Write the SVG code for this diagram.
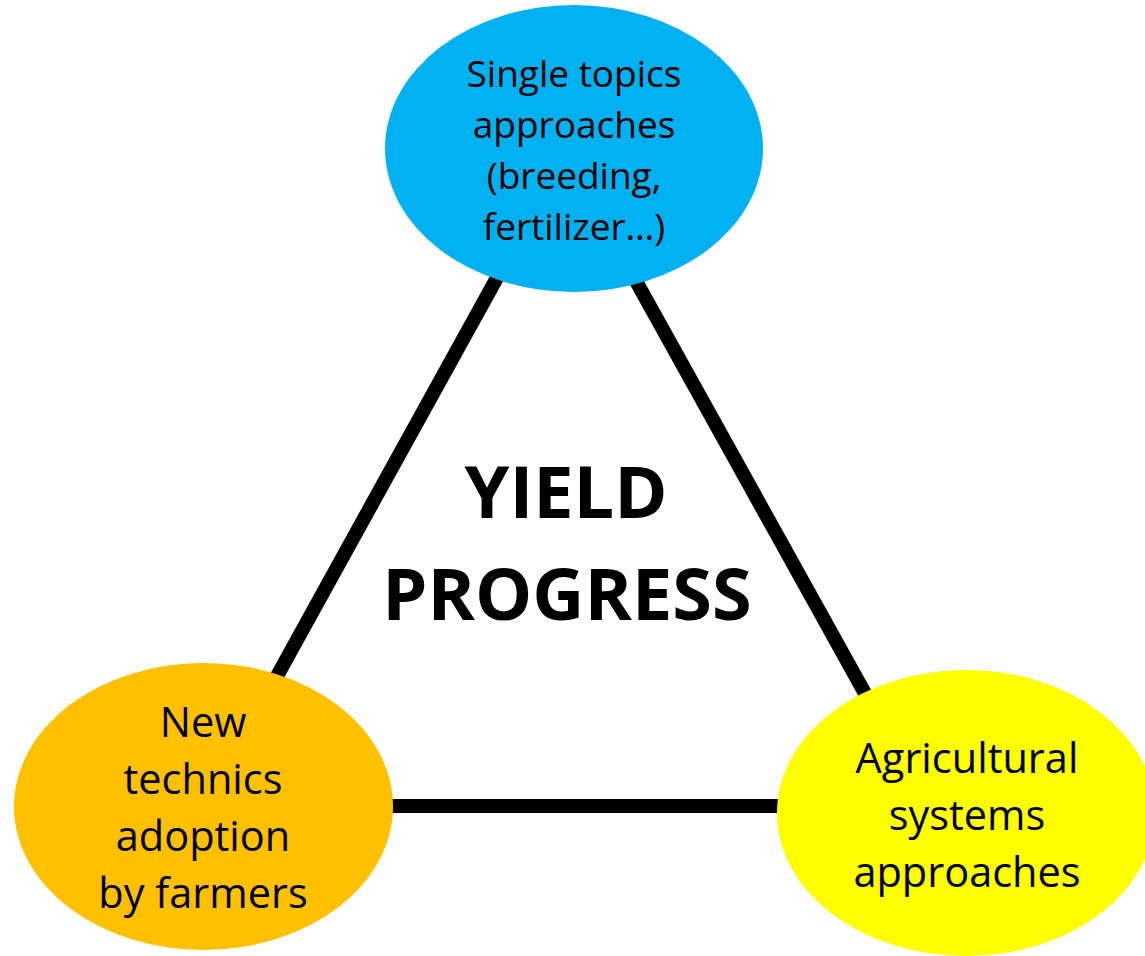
<svg xmlns="http://www.w3.org/2000/svg" width="1145" height="956" viewBox="0 0 1145 956">
  <style>
    .link { stroke: #000; stroke-width: 14; fill: none; }
    .label { font-family: "Open Sans", "Liberation Sans", sans-serif; fill: #000; text-anchor: middle; }
    .small { font-size: 37px; }
    .large { font-size: 41.5px; }
    .title { font-family: "Open Sans", "Liberation Sans", sans-serif; font-weight: bold; font-size: 72px; fill: #000; text-anchor: middle; }
  </style>
  <rect width="1145" height="956" fill="#fff"/>

  <!-- triangle edges between the three themes -->
  <g id="connectors">
    <line class="link" x1="530" y1="218" x2="240" y2="743"/>
    <line class="link" x1="601" y1="218" x2="902" y2="760"/>
    <line class="link" x1="300" y1="806" x2="850" y2="806"/>
  </g>

  <g id="center-label">
    <text class="title" x="566" y="518">YIELD</text>
    <text class="title" x="567" y="620">PROGRESS</text>
  </g>

  <g id="single-topics">
    <ellipse cx="574" cy="148.5" rx="189" ry="143.5" fill="#00B0F0"/>
    <text class="label small" x="574" y="87">Single topics</text>
    <text class="label small" x="574" y="138">approaches</text>
    <text class="label small" x="574" y="189">(breeding,</text>
    <text class="label small" x="574" y="240">fertilizer…)</text>
  </g>

  <g id="technics-adoption">
    <ellipse cx="203.5" cy="806.5" rx="189.5" ry="143.5" fill="#FFC000"/>
    <text class="label large" x="203" y="737">New</text>
    <text class="label large" x="203" y="794">technics</text>
    <text class="label large" x="203" y="851">adoption</text>
    <text class="label large" x="203" y="908">by farmers</text>
  </g>

  <g id="agricultural-systems">
    <ellipse cx="966" cy="813" rx="189" ry="143" fill="#FFFF00"/>
    <text class="label large" x="967" y="773">Agricultural</text>
    <text class="label large" x="967" y="830">systems</text>
    <text class="label large" x="967" y="887">approaches</text>
  </g>
</svg>
